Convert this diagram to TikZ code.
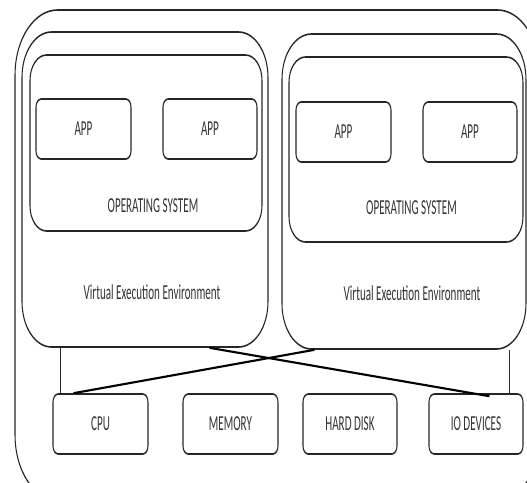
\documentclass[tikz,border=0pt]{standalone}
\usepackage{fontspec}
\setmainfont{Carlito}
\newcommand\narrow[1]{\scalebox{0.8}[1]{#1}}

\begin{document}
\begin{tikzpicture}[
    roundbox/.style={draw=black!85, line width=1.2pt, inner sep=0pt, text=black!80},
    size/.style 2 args={minimum width=#1*1.1538pt, minimum height=#2*0.75pt},
    label/.style={inner sep=0pt, text=black!80},
    link/.style={draw=black, line width=1.6pt},
    post/.style={draw=black!85, line width=1.2pt}
    ]
  \useasboundingbox (0,0) rectangle (395.25pt,-361.5pt);
  \begin{scope}[x=1.1538pt, y=-0.75pt, transform canvas={xscale=0.65},
      every node/.append style={font=\fontsize{16}{19}\selectfont}]
    \clip (0,0) rectangle (527,482);

    % host machine
    \node [roundbox, size={525}{490}, rounded corners=49pt] (host) at (277.5,255) {};

    % two virtual execution environments
    \node [roundbox, size={246}{315}, rounded corners=34pt] (vleft) at (145,189.5) {};
    \node [roundbox, size={244}{315}, rounded corners=34pt] (vright) at (404,191.5) {};
    \node [label] (vlefttext) at (152,292) {\narrow{Virtual Execution Environment}};
    \node [label] (vrighttext) at (412,293) {\narrow{Virtual Execution Environment}};

    % guest operating systems
    \node [roundbox, size={232}{176}, rounded corners=19pt] (osleft) at (146,143) {};
    \node [roundbox, size={234}{185}, rounded corners=19pt] (osright) at (406,149.5) {};
    \node [label] (oslefttext) at (153,206) {\narrow{OPERATING SYSTEM}};
    \node [label] (osrighttext) at (411.5,208) {\narrow{OPERATING SYSTEM}};

    % applications
    \node [roundbox, size={95}{60}, rounded corners=6pt] (app1) at (83.5,129) {\narrow{APP}};
    \node [roundbox, size={94}{60}, rounded corners=6pt] (app2) at (210,129) {\narrow{APP}};
    \node [roundbox, size={95}{60}, rounded corners=6pt] (app3) at (343.5,132) {\narrow{APP}};
    \node [roundbox, size={94}{60}, rounded corners=6pt] (app4) at (470,132) {\narrow{APP}};

    % hardware
    \node [roundbox, size={95}{60}, rounded corners=6pt] (cpu) at (100.5,424) {\narrow{CPU}};
    \node [roundbox, size={95}{60}, rounded corners=6pt] (mem) at (230.5,424) {\narrow{MEMORY}};
    \node [roundbox, size={94}{60}, rounded corners=6pt] (disk) at (350,424) {\narrow{HARD DISK}};
    \node [roundbox, size={94}{60}, rounded corners=6pt] (io) at (476,424) {\narrow{IO DEVICES}};

    % mapping onto the hardware
    \draw [post] ([shift={(8,0)}]cpu.north west) -- ([shift={(8,0)}]cpu.north west |- vleft.south);
    \draw [post] ([shift={(-14,0)}]io.north east) -- ([shift={(-14,0)}]io.north east |- vright.south);
    \draw [link] ([shift={(21,0)}]cpu.north west) -- ([shift={(33,0)}]vright.south west);
    \draw [link] ([shift={(-59,0)}]vleft.south east) -- ([shift={(61,3)}]io.north west);
  \end{scope}
\end{tikzpicture}
\end{document}
